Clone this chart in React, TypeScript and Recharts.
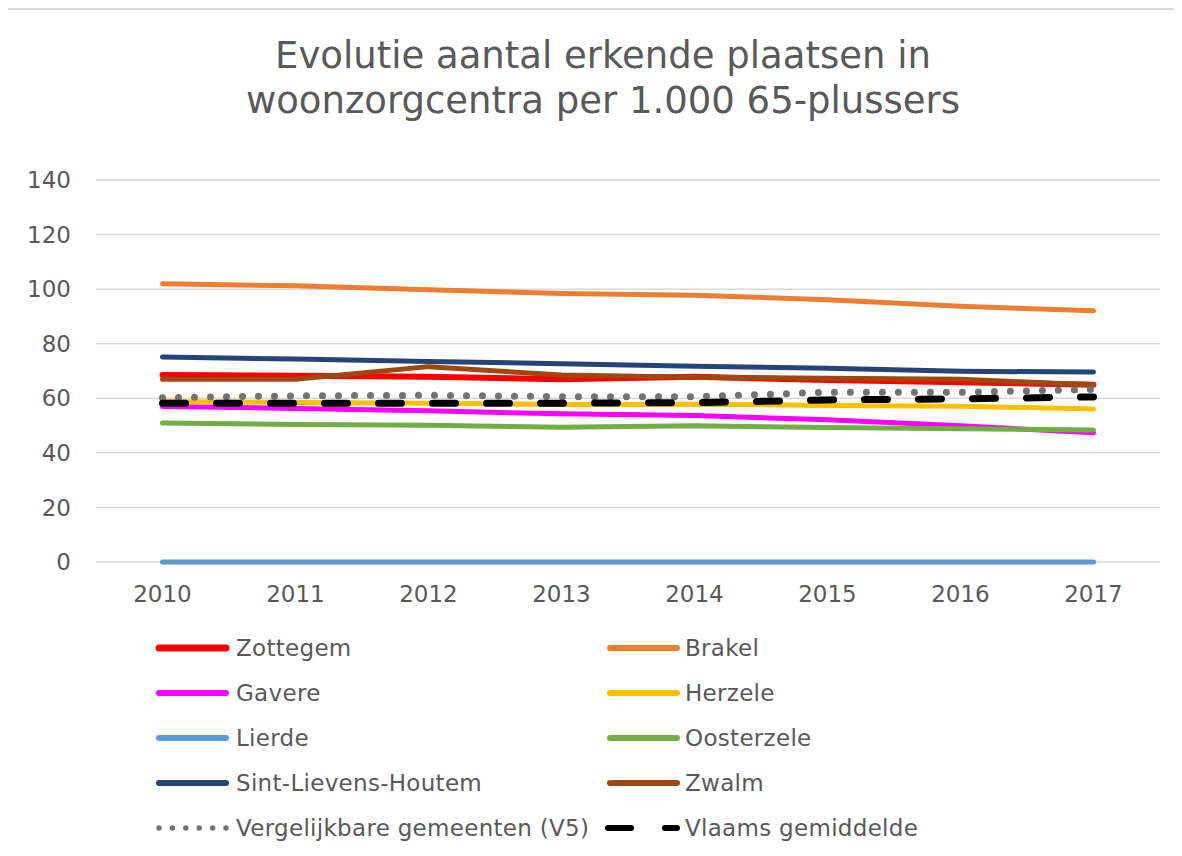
import { CartesianGrid, Line, LineChart, XAxis, YAxis } from "recharts";

const years = ["2010", "2011", "2012", "2013", "2014", "2015", "2016", "2017"];
const yTicks = [0, 20, 40, 60, 80, 100, 120, 140];

const zottegem = [68.5, 68.3, 67.9, 67.0, 67.9, 66.7, 65.9, 65.0];
const brakel = [102.0, 101.2, 99.8, 98.4, 97.8, 96.1, 93.7, 92.1];
const gavere = [57.0, 56.3, 55.4, 54.3, 53.7, 52.1, 49.9, 47.4];
const herzele = [58.8, 58.5, 58.2, 57.7, 57.8, 57.4, 57.1, 56.1];
const lierde = [0, 0, 0, 0, 0, 0, 0, 0];
const oosterzele = [50.9, 50.4, 50.1, 49.4, 49.9, 49.3, 48.8, 48.4];
const sintLievensHoutem = [75.1, 74.4, 73.5, 72.7, 71.7, 71.0, 69.9, 69.6];
const zwalm = [67.0, 67.0, 71.6, 68.5, 67.7, 67.3, 67.0, 64.9];
const vergelijkbaar = [60.2, 60.9, 61.1, 60.6, 60.6, 62.2, 62.2, 63.2];
const vlaams = [58.2, 58.2, 58.2, 58.2, 58.4, 59.4, 59.8, 60.5];

type Serie = {
  key: string;
  name: string;
  values: number[];
  color: string;
  width: number;
  dash?: string;
};

const series: Serie[] = [
  { key: "zottegem", name: "Zottegem", values: zottegem, color: "#FF0000", width: 6 },
  { key: "brakel", name: "Brakel", values: brakel, color: "#ED7D31", width: 5 },
  { key: "gavere", name: "Gavere", values: gavere, color: "#FF00FF", width: 5 },
  { key: "herzele", name: "Herzele", values: herzele, color: "#FFC000", width: 5 },
  { key: "lierde", name: "Lierde", values: lierde, color: "#5B9BD5", width: 5 },
  { key: "oosterzele", name: "Oosterzele", values: oosterzele, color: "#70AD47", width: 5 },
  { key: "slh", name: "Sint-Lievens-Houtem", values: sintLievensHoutem, color: "#264478", width: 5 },
  { key: "zwalm", name: "Zwalm", values: zwalm, color: "#9E480E", width: 5 },
  { key: "v5", name: "Vergelijkbare gemeenten (V5)", values: vergelijkbaar, color: "#767171", width: 7, dash: "0 16" },
  { key: "vlaams", name: "Vlaams gemiddelde", values: vlaams, color: "#000000", width: 7, dash: "23 31" },
];

const data = years.map((year, i) => {
  const row: Record<string, string | number> = { year };
  series.forEach((s) => {
    row[s.key] = s.values[i];
  });
  return row;
});

const FONT = "'DejaVu Sans', Verdana, sans-serif";
const TEXT = "#595959";

// legend icon: line drawn from x=9 to x=76 inside the svg
const LegendItem = ({ s, x, y, w }: { s: Serie; x: number; y: number; w: number }) => (
  <div style={{ position: "absolute", left: x, top: y - 16, height: 32, display: "flex", alignItems: "center" }}>
    <svg width={w} height={32} style={{ display: "block", flex: "none" }}>
      {s.key === "vlaams" ? (
        <line x1={7} y1={16} x2={76} y2={16} stroke={s.color} strokeWidth={6} strokeLinecap="round" strokeDasharray="23 34" />
      ) : s.key === "v5" ? (
        <line x1={9} y1={16} x2={76} y2={16} stroke={s.color} strokeWidth={5.5} strokeLinecap="round" strokeDasharray="0 13.4" />
      ) : (
        <line x1={9} y1={16} x2={76} y2={16} stroke={s.color} strokeWidth={s.width + 1} strokeLinecap="round" />
      )}
    </svg>
    <span style={{ fontFamily: FONT, fontSize: 23, letterSpacing: 0.3, color: TEXT, whiteSpace: "nowrap" }}>{s.name}</span>
  </div>
);

const App = () => {
  return (
    <div style={{ position: "relative", margin: -8, width: 1182, height: 856, overflow: "hidden", background: "#fff" }}>
      <div
        style={{
          position: "absolute",
          left: 3,
          top: 8,
          width: 1190,
          height: 860,
          border: "2px solid #d9d9d9",
          boxSizing: "border-box",
        }}
      />
      <div
        style={{
          position: "absolute",
          left: 3,
          top: 33,
          width: 1200,
          textAlign: "center",
          fontFamily: FONT,
          fontSize: 37,
          lineHeight: "45px",
          color: TEXT,
        }}
      >
        Evolutie aantal erkende plaatsen in
        <br />
        woonzorgcentra per 1.000 65-plussers
      </div>
      <div style={{ position: "absolute", left: 0, top: 0 }}>
        <LineChart width={1182} height={640} data={data} margin={{ top: 180, right: 22, bottom: 28, left: 0 }}>
          <CartesianGrid vertical={false} stroke="#d9d9d9" strokeWidth={1.5} />
          <XAxis
            dataKey="year"
            height={50}
            padding={{ left: 66.5, right: 66.5 }}
            axisLine={false}
            tickLine={false}
            tickMargin={18}
            tick={{ fill: TEXT, fontSize: 23, fontFamily: FONT }}
          />
          <YAxis
            width={96}
            domain={[0, 140]}
            ticks={yTicks}
            axisLine={false}
            tickLine={false}
            tickMargin={19}
            tick={{ fill: TEXT, fontSize: 23, fontFamily: FONT }}
          />
          {series.map((s) => (
            <Line
              key={s.key}
              dataKey={s.key}
              name={s.name}
              type="linear"
              stroke={s.color}
              strokeWidth={s.width}
              strokeDasharray={s.dash}
              strokeLinecap="round"
              strokeLinejoin="round"
              dot={false}
              activeDot={false}
              isAnimationActive={false}
            />
          ))}
        </LineChart>
      </div>
      {series.map((s, i) => (
        <LegendItem
          key={s.key}
          s={s}
          x={i % 2 === 0 ? 150 : 601}
          w={i % 2 === 0 ? 86 : 84}
          y={647.5 + Math.floor(i / 2) * 45}
        />
      ))}
    </div>
  );
};

export default App;
